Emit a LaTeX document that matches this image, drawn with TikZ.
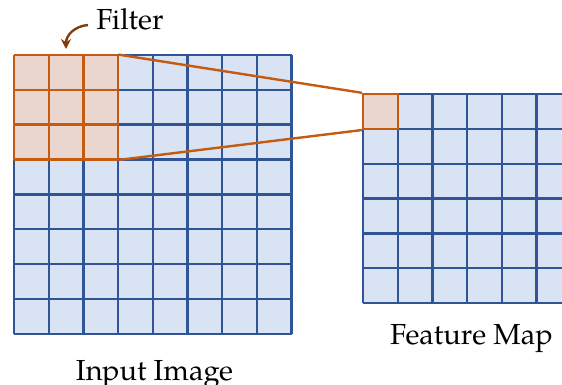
\documentclass[tikz,border=0pt]{standalone}
\usepackage{fontspec}
\setmainfont{TeX Gyre Pagella}
\usetikzlibrary{fit,arrows.meta}
\definecolor{cellfill}{HTML}{DAE3F3}
\definecolor{gridblue}{HTML}{2F5597}
\definecolor{filterorange}{HTML}{C55A11}
\definecolor{filterfill}{HTML}{EAD6CE}
\definecolor{arrowbrown}{HTML}{843C0C}
\tikzset{
  bluegrid/.style={draw=gridblue, line width=1.2pt},
  orangegrid/.style={draw=filterorange, line width=1.2pt},
  caption/.style={font=\fontsize{14.5}{17}\selectfont, inner sep=0pt},
  patch/.style={inner sep=0pt, draw=filterorange, line width=1.2pt},
}
\begin{document}
\begin{tikzpicture}[x=0.5pt,y=-0.5pt]
\useasboundingbox (0,0) rectangle (562,385);
\clip (0,0) rectangle (562,385);
\def\cw{34.7}
\def\ch{34.85}

% input image: 8 x 8 cells
\fill[cellfill] (14,55) rectangle ({14+8*\cw},{55+8*\ch});
\foreach \i in {0,...,8} {
  \draw[bluegrid] ({14+\i*\cw},55) -- ({14+\i*\cw},{55+8*\ch});
  \draw[bluegrid] (14,{55+\i*\ch}) -- ({14+8*\cw},{55+\i*\ch});
}

% feature map: 6 x 6 cells
\fill[cellfill] (363,94) rectangle ({363+6*\cw},{94+6*\ch});
\foreach \i in {0,...,6} {
  \draw[bluegrid] ({363+\i*\cw},94) -- ({363+\i*\cw},{94+6*\ch});
  \draw[bluegrid] (363,{94+\i*\ch}) -- ({363+6*\cw},{94+\i*\ch});
}

% 3 x 3 filter window on the input
\coordinate (f1) at (14,55);
\coordinate (f2) at ({14+3*\cw},{55+3*\ch});
\fill[filterfill] (f1) rectangle (f2);
\foreach \i in {0,...,3} {
  \draw[orangegrid] ({14+\i*\cw},55) -- ({14+\i*\cw},{55+3*\ch});
  \draw[orangegrid] (14,{55+\i*\ch}) -- ({14+3*\cw},{55+\i*\ch});
}
\node[fit=(f1)(f2), inner sep=0pt] (filter) {};

% output cell produced by the filter
\coordinate (c1) at (363,94);
\coordinate (c2) at ({363+\cw},{94+\ch});
\fill[filterfill] (c1) rectangle (c2);
\node[fit=(c1)(c2), patch] (fcell) {};

% projection lines
\draw[orangegrid] (filter.north east) -- (fcell.north west);
\draw[orangegrid] (filter.south east) -- (fcell.south west);

% labels
\node[caption, anchor=base west] (filterlabel) at (96,30) {Filter};
\node[caption, anchor=base] (inputlabel) at (154.5,380) {Input Image};
\node[caption, anchor=base] (maplabel) at (471.5,344) {Feature Map};

% curved pointer from the label to the filter
\coordinate (pstart) at (88,25);
\coordinate (pend) at (66,49);
\draw[arrowbrown, line width=1.2pt, -{Stealth[length=5pt,width=5pt]}]
  (pstart) .. controls (75,26) and (66,35) .. (pend);
\end{tikzpicture}
\end{document}
